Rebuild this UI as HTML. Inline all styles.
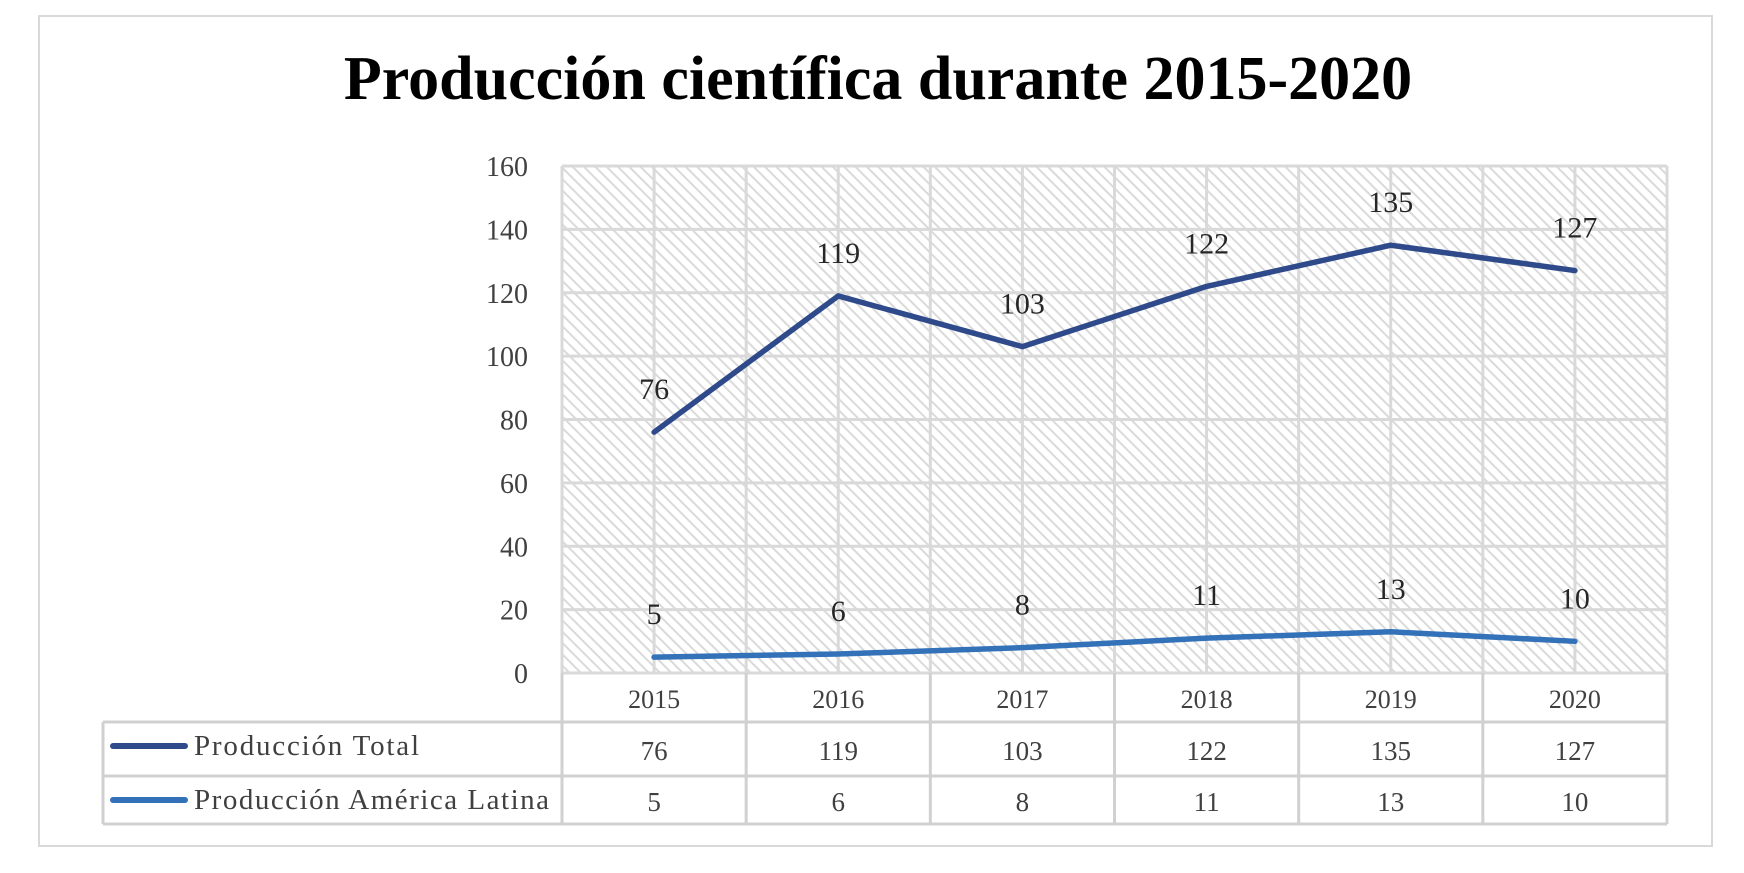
<!DOCTYPE html>
<html><head><meta charset="utf-8"><style>
html,body{margin:0;padding:0;background:#fff;}
body{width:1744px;height:868px;overflow:hidden;position:relative;font-family:"Liberation Serif",serif;}
</style></head><body>
<svg id="chart" width="1744" height="868" xmlns="http://www.w3.org/2000/svg">
<defs>
<pattern id="hatch" patternUnits="userSpaceOnUse" width="8" height="8" patternTransform="rotate(45)">
<rect width="8" height="8" fill="#fff"/>
<rect x="0" y="0" width="8" height="2" fill="#dadada"/>
</pattern>
</defs>
<rect x="39" y="16" width="1673" height="830" fill="#fff" stroke="#d9d9d9" stroke-width="2"/>
<text x="878" y="99" text-anchor="middle" font-family="Liberation Serif, serif" font-weight="bold" font-size="62" fill="#000">Producción científica durante 2015-2020</text>
<g id="plot"></g>
</svg>
<script>
const categories=['2015','2016','2017','2018','2019','2020'];
const totalValues=[76,119,103,122,135,127];
const latamValues=[5,6,8,11,13,10];
const yTicks=[0,20,40,60,80,100,120,140,160];
const seriesNames=['Producción Total','Producción América Latina'];

const L=562,R=1667,T=166,B=673,yMax=160;
const cw=(R-L)/categories.length;
const xPos=i=>L+cw*(i+0.5);
const yPos=v=>B-(v/yMax)*(B-T);
const ns='http://www.w3.org/2000/svg';
const g=document.getElementById('plot');
function mk(tag,attrs,parent){const e=document.createElementNS(ns,tag);for(const k in attrs)e.setAttribute(k,attrs[k]);(parent||g).appendChild(e);return e;}

const bg=mk('rect',{x:L,y:T,width:R-L,height:B-T,fill:'url(#hatch)'});



yTicks.forEach(t=>{
  const l=mk('line',{x1:L,x2:R,y1:yPos(t),y2:yPos(t),stroke:'#d9d9d9','stroke-width':3});
  
  
  const tx=mk('text',{x:528,y:yPos(t)+10,'text-anchor':'end','font-size':28,fill:'#404040','font-family':'Liberation Serif, serif'});
  tx.textContent=t;
  
  
});
for(let i=0;i<=categories.length;i++){
  const x=L+cw*i;
  const l=mk('line',{x1:x,x2:x,y1:T,y2:B,stroke:'#d9d9d9','stroke-width':3});
  
  
  if(i<categories.length){
    const c=mk('line',{x1:xPos(i),x2:xPos(i),y1:T,y2:B,stroke:'#d9d9d9','stroke-width':3});
    
    
  }
}

function series(vals,color,name){
  const pts=vals.map((v,i)=>xPos(i)+','+yPos(v)).join(' ');
  const p=mk('polyline',{points:pts,fill:'none',stroke:color,'stroke-width':5.5,'stroke-linejoin':'round','stroke-linecap':'round'});
  
  
  vals.forEach((v,i)=>{
    const t=mk('text',{x:xPos(i),y:yPos(v)-33,'text-anchor':'middle','font-size':30,fill:'#262626','font-family':'Liberation Serif, serif'});
    t.textContent=v;
    
    
  });
}
series(totalValues,'#2F4A8B','total');
series(latamValues,'#3372B9','latam');

const tl=103;
const gridStyle={stroke:'#d0d0d0','stroke-width':3};
for(let i=0;i<=categories.length;i++){
  const x=L+cw*i;
  const l=mk('line',Object.assign({x1:x,x2:x,y1:B,y2:824},gridStyle));
  
  
}
[722,776,824].forEach(y=>{
  const l=mk('line',Object.assign({x1:tl,x2:R,y1:y,y2:y},gridStyle));
  
  
});
const lv=mk('line',Object.assign({x1:tl,x2:tl,y1:722,y2:824},gridStyle));



categories.forEach((c,i)=>{
  const t=mk('text',{x:xPos(i),y:708,'text-anchor':'middle','font-size':26,fill:'#404040','font-family':'Liberation Serif, serif'});
  t.textContent=c;
  
  
  const a=mk('text',{x:xPos(i),y:760,'text-anchor':'middle','font-size':27,fill:'#404040','font-family':'Liberation Serif, serif'});
  a.textContent=totalValues[i];
  
  
  const b=mk('text',{x:xPos(i),y:811,'text-anchor':'middle','font-size':27,fill:'#404040','font-family':'Liberation Serif, serif'});
  b.textContent=latamValues[i];
  
  
});
[[seriesNames[0],'#2F4A8B',746],[seriesNames[1],'#3372B9',800]].forEach(([n,col,y],k)=>{
  const l=mk('line',{x1:113,x2:185,y1:y,y2:y,stroke:col,'stroke-width':6,'stroke-linecap':'round'});
  
  
  const t=mk('text',{x:194,y:y+9,'font-size':29,fill:'#404040','font-family':'Liberation Serif, serif','textLength':k?355:225,'lengthAdjust':'spacing'});
  t.textContent=n;
  
  
});
</script>
</body></html>
